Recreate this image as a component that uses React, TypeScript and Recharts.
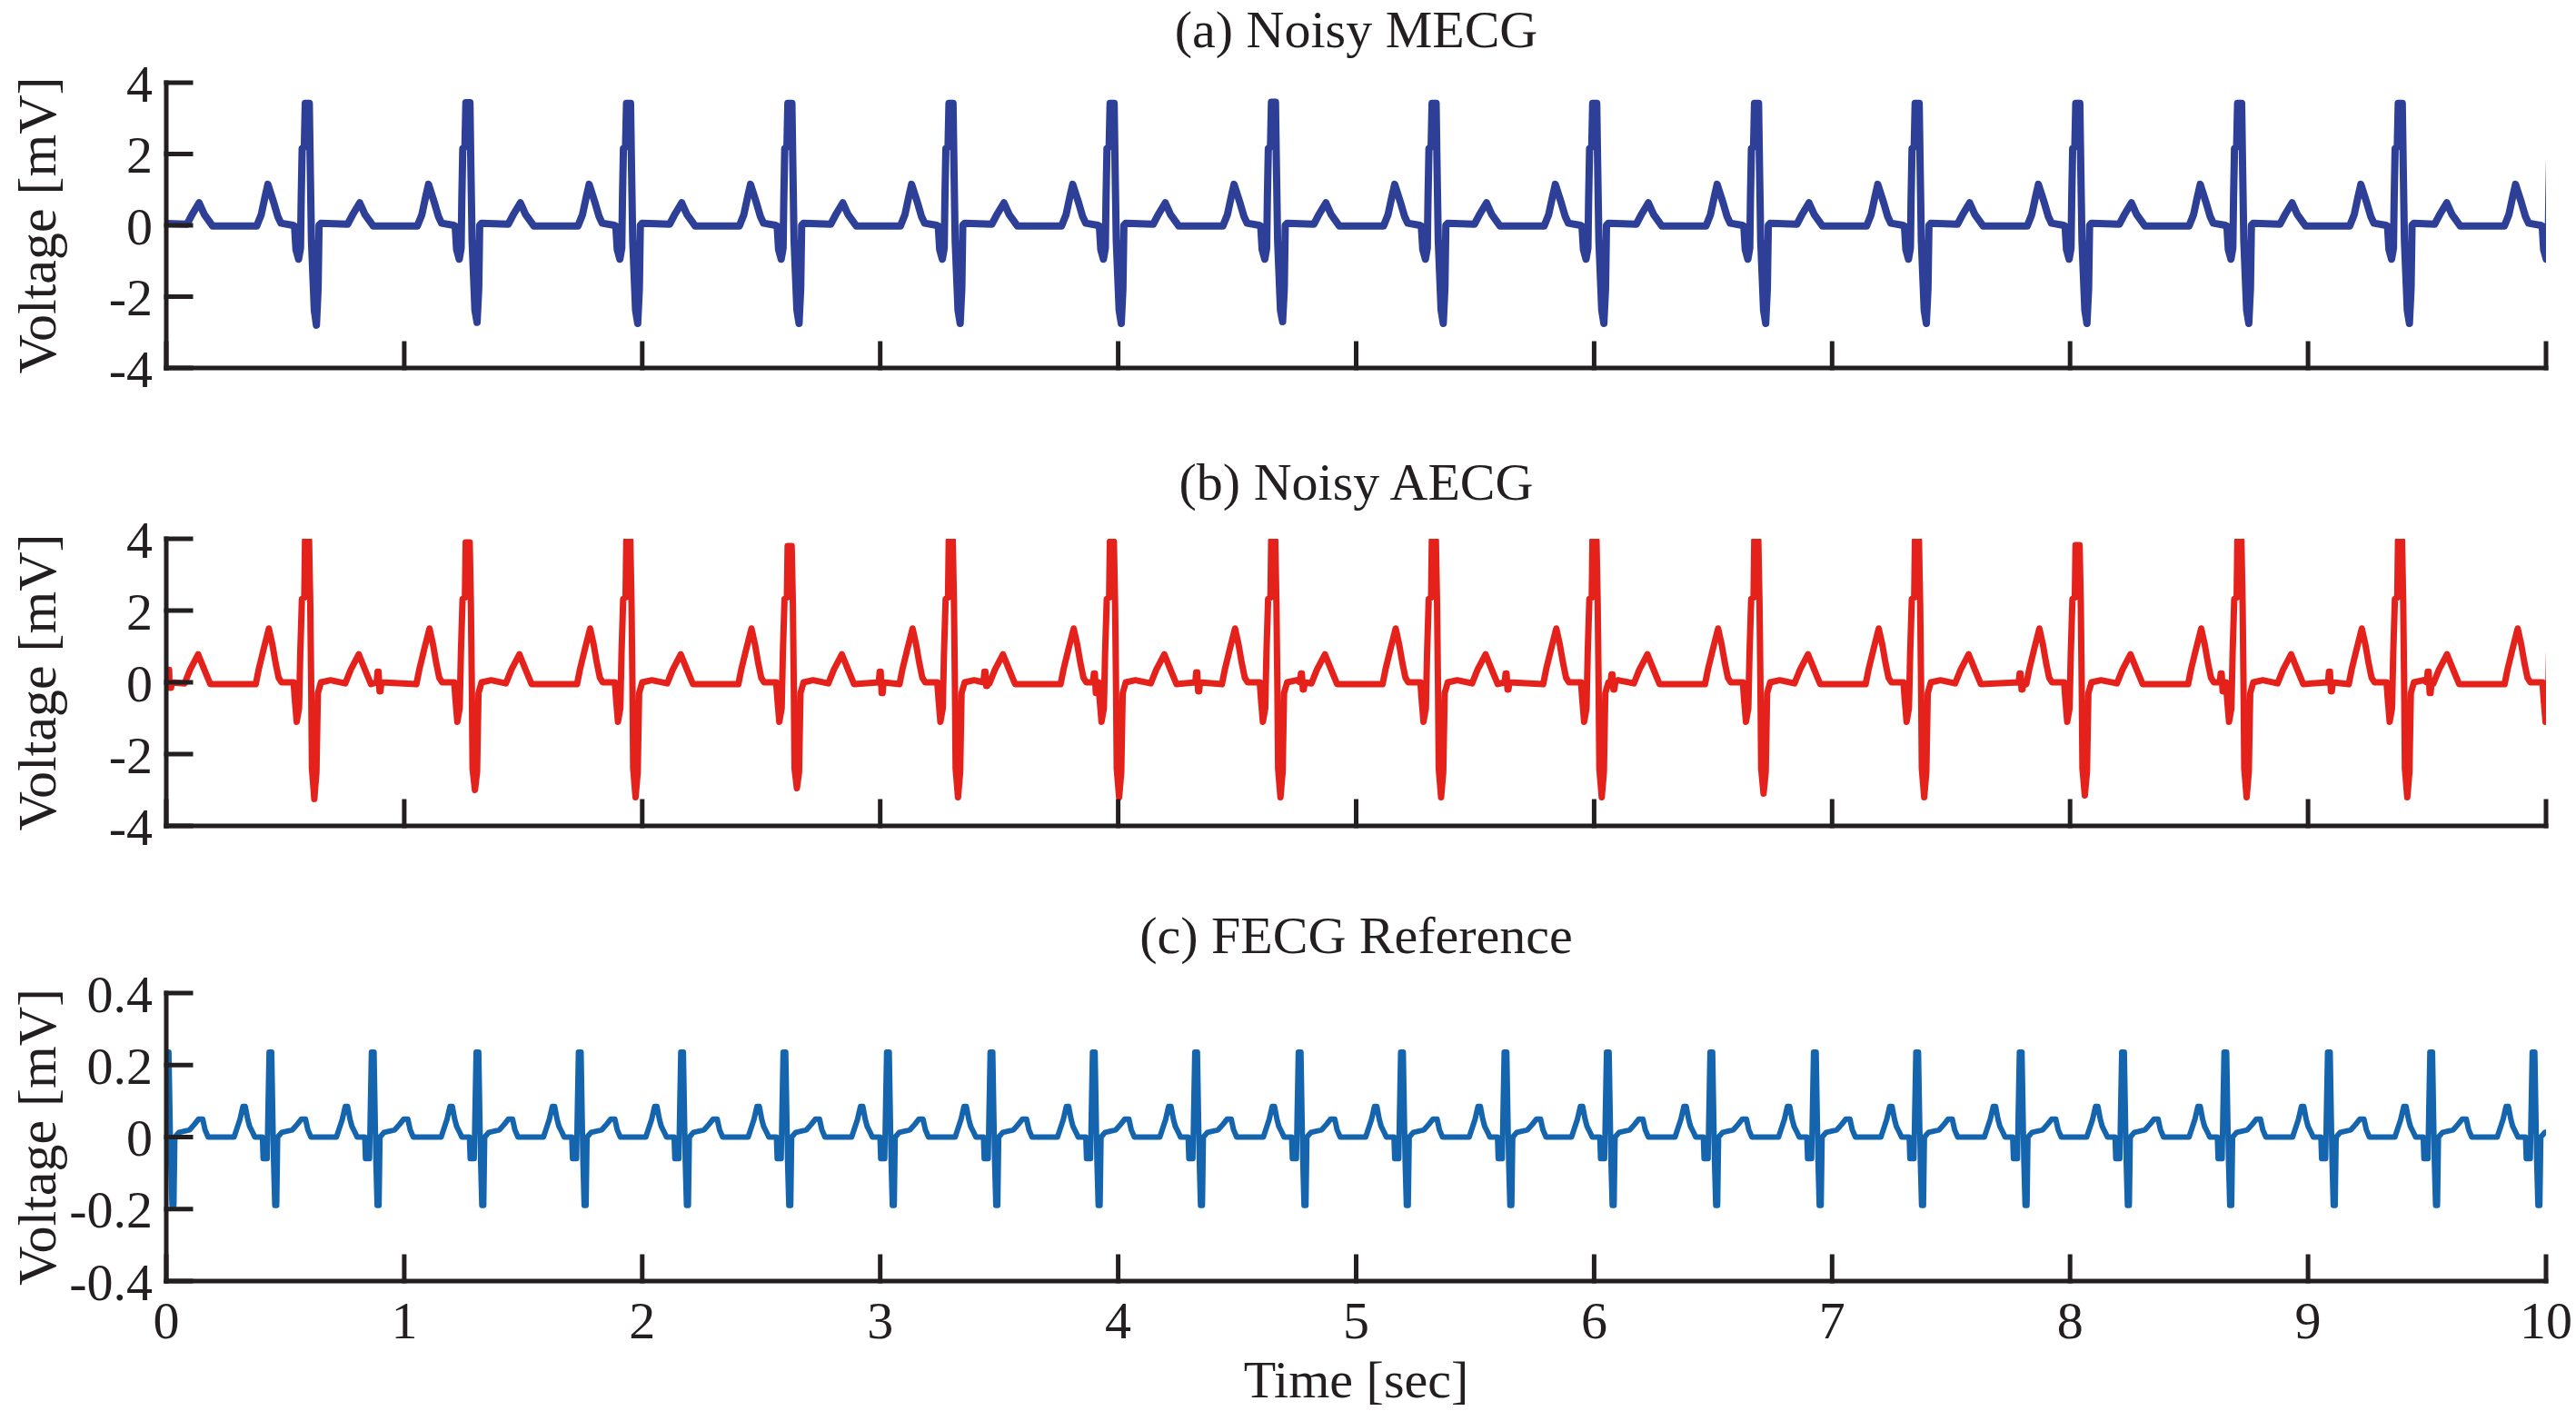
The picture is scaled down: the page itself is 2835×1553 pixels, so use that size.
import React from 'react';
import { LineChart, Line, XAxis, YAxis } from 'recharts';

const timeTicks = [0, 1, 2, 3, 4, 5, 6, 7, 8, 9, 10];
const mvTicks = [-4, -2, 0, 2, 4];
const fetalTicks = [-0.4, -0.2, 0, 0.2, 0.4];

// (a) noisy MECG: R-peak times [s] and per-beat R / S amplitudes [mV]
const mecgBeatTimes = [-0.087, 0.59, 1.265, 1.94, 2.618, 3.295, 3.972, 4.65, 5.325, 6.0, 6.68, 7.355, 8.03, 8.71, 9.385, 10.035];
const mecgRPeaks = [3.4, 3.42, 3.44, 3.42, 3.42, 3.42, 3.42, 3.45, 3.42, 3.42, 3.42, 3.42, 3.42, 3.42, 3.42, 3.4];
const mecgSTroughs = [-2.75, -2.8, -2.72, -2.75, -2.75, -2.75, -2.75, -2.7, -2.75, -2.75, -2.75, -2.75, -2.75, -2.75, -2.75, -2.75];
// one maternal beat around its R peak (offset s, mV)
const mecgShapeDt = [-0.503, -0.48, -0.452, -0.43, -0.395, -0.21, -0.191, -0.175, -0.163, -0.14, -0.121, -0.108, -0.057, -0.051, -0.045, -0.034, -0.026, -0.023, -0.019, -0.01, -0.006, 0.011, 0.015, 0.02, 0.032, 0.041, 0.048, 0.052, 0.06];
const mecgShapeMv: (number | 'R' | 'S')[] = [0.03, 0.32, 0.63, 0.3, -0.02, -0.02, 0.3, 0.8, 1.15, 0.67, 0.24, 0.06, 0.0, -0.02, -0.68, -0.95, -0.64, 0.76, 2.16, 2.2, 'R', 'R', 1.63, -0.42, -2.38, 'S', -1.77, 0.0, 0.06];

// (b) noisy AECG: maternal beats plus small fetal blips
const aecgBeatTimes = [-0.087, 0.59, 1.265, 1.94, 2.618, 3.295, 3.972, 4.65, 5.325, 6.0, 6.68, 7.355, 8.03, 8.71, 9.385, 10.04];
const aecgRPeaks = [3.95, 3.96, 3.9, 3.95, 3.8, 3.95, 3.92, 3.95, 3.95, 3.95, 3.95, 3.95, 3.82, 3.95, 3.95, 3.95];
const aecgSTroughs = [-3.2, -3.25, -3.0, -3.2, -2.95, -3.2, -3.2, -3.2, -3.2, -3.2, -3.1, -3.2, -3.15, -3.2, -3.2, -3.2];
const aecgShapeDt = [-0.513, -0.49, -0.456, -0.43, -0.405, -0.214, -0.201, -0.18, -0.159, -0.144, -0.131, -0.118, -0.106, -0.055, -0.05, -0.042, -0.032, -0.027, -0.02, -0.01, -0.007, 0.01, 0.015, 0.019, 0.022, 0.032, 0.041, 0.047, 0.06, 0.1];
const aecgShapeMv: (number | 'R' | 'S')[] = [-0.03, 0.35, 0.78, 0.35, -0.05, -0.05, 0.38, 0.95, 1.5, 1.05, 0.55, 0.13, 0.0, 0.0, -0.46, -1.1, -0.72, 0.8, 2.32, 2.36, 'R', 'R', 2.19, -0.13, -2.4, 'S', -2.5, -0.3, 0.0, 0.06];
const aecgBlipTimes = [0.01, 0.89, 3.0, 3.44, 3.9, 4.33, 4.77, 5.63, 6.075, 7.79, 8.635, 9.09, 9.505];
const aecgBlipUp = [0.35, 0.3, 0.3, 0.3, 0.25, 0.28, 0.25, 0.25, 0.22, 0.25, 0.25, 0.3, 0.3];
const aecgBlipDown = [-0.15, -0.25, -0.3, -0.1, -0.3, -0.25, -0.2, -0.2, -0.2, -0.2, -0.25, -0.25, -0.3];

// (c) FECG reference
const fecgBeatTimes = [0.008, 0.44, 0.87, 1.31, 1.74, 2.17, 2.6, 3.035, 3.47, 3.9, 4.33, 4.765, 5.195, 5.63, 6.06, 6.495, 6.93, 7.36, 7.795, 8.225, 8.655, 9.09, 9.52, 9.95];
const fecgRPeaks = [0.236, 0.236, 0.236, 0.236, 0.236, 0.236, 0.236, 0.236, 0.236, 0.236, 0.236, 0.236, 0.236, 0.236, 0.236, 0.236, 0.236, 0.236, 0.236, 0.236, 0.236, 0.236, 0.236, 0.236];
const fecgSTroughs = [-0.19, -0.19, -0.19, -0.19, -0.19, -0.19, -0.19, -0.19, -0.19, -0.19, -0.19, -0.19, -0.19, -0.19, -0.19, -0.19, -0.19, -0.19, -0.19, -0.19, -0.19, -0.19, -0.19, -0.19];
const fecgShapeDt = [-0.155, -0.145, -0.13, -0.118, -0.108, -0.098, -0.09, -0.075, -0.068, -0.036, -0.033, -0.016, -0.013, -0.008, 0.003, 0.007, 0.011, 0.016, 0.024, 0.028, 0.045, 0.09, 0.11, 0.128, 0.145, 0.155, 0.168];
const fecgShapeMv: (number | 'R' | 'S')[] = [0, 0.02, 0.05, 0.085, 0.085, 0.05, 0.03, 0.01, 0, 0, -0.06, -0.06, 0.06, 'R', 'R', 0.08, -0.07, 'S', 'S', 0, 0.013, 0.02, 0.035, 0.05, 0.05, 0.02, 0];

type Pt = { t: number; v: number };

const buildTrace = (
  beats: number[],
  rPeaks: number[],
  sTroughs: number[],
  dts: number[],
  mvs: (number | 'R' | 'S')[],
): Pt[] => {
  const pts: Pt[] = [];
  beats.forEach((tb, i) => {
    dts.forEach((dt, j) => {
      const raw = mvs[j];
      const v = raw === 'R' ? rPeaks[i] : raw === 'S' ? sTroughs[i] : raw;
      pts.push({ t: +(tb + dt).toFixed(4), v });
    });
  });
  return pts;
};

const mecgData = buildTrace(mecgBeatTimes, mecgRPeaks, mecgSTroughs, mecgShapeDt, mecgShapeMv);

const aecgData = (() => {
  const pts = buildTrace(aecgBeatTimes, aecgRPeaks, aecgSTroughs, aecgShapeDt, aecgShapeMv);
  aecgBlipTimes.forEach((tb, i) => {
    pts.push(
      { t: tb - 0.006, v: 0 },
      { t: tb - 0.002, v: aecgBlipUp[i] },
      { t: tb + 0.002, v: aecgBlipUp[i] },
      { t: tb + 0.006, v: aecgBlipDown[i] },
      { t: tb + 0.01, v: aecgBlipDown[i] },
      { t: tb + 0.014, v: 0 },
    );
  });
  return pts.sort((a, b) => a.t - b.t);
})();

const fecgData = buildTrace(fecgBeatTimes, fecgRPeaks, fecgSTroughs, fecgShapeDt, fecgShapeMv);

const INK = '#231f20';
const FONT = 'Liberation Serif, Times New Roman, serif';
const FS = 58;

// top panels keep their tick marks but show no numbers
const NoLabel = () => <g />;

interface PanelProps {
  top: number;
  height: number;
  marginTop: number;
  plotHeight: number;
  xAxisHeight: number;
  data: Pt[];
  color: string;
  lineWidth: number;
  domain: [number, number];
  yTicks: number[];
  showTimeLabels: boolean;
}

const Panel: React.FC<PanelProps> = ({
  top, height, marginTop, plotHeight, xAxisHeight, data, color, lineWidth, domain, yTicks, showTimeLabels,
}) => {
  const bottom = height - marginTop - plotHeight - xAxisHeight;
  const tickStyle = { fill: INK, fontSize: FS, fontFamily: FONT };
  const axisStyle = { stroke: INK, strokeWidth: 5, strokeLinecap: 'square' as const };
  return (
    <div style={{ position: 'absolute', left: 0, top, width: 2835, height }}>
      <LineChart width={2835} height={height} data={data} margin={{ top: marginTop, right: 33, bottom, left: 0 }}>
        <XAxis
          type="number"
          dataKey="t"
          domain={[0, 10]}
          ticks={timeTicks}
          interval={0}
          allowDataOverflow
          height={xAxisHeight}
          tickSize={-27}
          tickMargin={49}
          axisLine={axisStyle}
          tickLine={axisStyle}
          tick={showTimeLabels ? tickStyle : NoLabel}
        />
        <YAxis
          type="number"
          domain={domain}
          ticks={yTicks}
          interval={0}
          allowDataOverflow
          width={183}
          tickSize={-27}
          tickMargin={42}
          axisLine={axisStyle}
          tickLine={axisStyle}
          tick={tickStyle}
          label={{
            value: 'Voltage [mV]',
            angle: -90,
            position: 'insideLeft',
            offset: 40,
            fill: INK,
            fontSize: FS + 2,
            fontFamily: FONT,
            style: { textAnchor: 'middle' },
          }}
        />
        <Line
          type="linear"
          dataKey="v"
          stroke={color}
          strokeWidth={lineWidth}
          strokeLinejoin="round"
          dot={false}
          activeDot={false}
          isAnimationActive={false}
        />
      </LineChart>
    </div>
  );
};

const textStyle: React.CSSProperties = {
  position: 'absolute',
  left: 183,
  width: 2619,
  textAlign: 'center',
  fontFamily: FONT,
  fontSize: FS,
  lineHeight: '58px',
  color: INK,
  whiteSpace: 'nowrap',
};

const App: React.FC = () => (
  <div style={{ position: 'absolute', left: 0, top: 0, width: 2835, height: 1553, background: '#fff', overflow: 'hidden' }}>
    <div style={{ ...textStyle, top: 4 }}>(a) Noisy MECG</div>
    <div style={{ ...textStyle, top: 502 }}>(b) Noisy AECG</div>
    <div style={{ ...textStyle, top: 1001 }}>(c) FECG Reference</div>
    <Panel top={0} height={500} marginTop={91} plotHeight={314} xAxisHeight={20} data={mecgData} color="#2e3f97" lineWidth={8} domain={[-4, 4]} yTicks={mvTicks} showTimeLabels={false} />
    <Panel top={500} height={500} marginTop={93} plotHeight={316} xAxisHeight={20} data={aecgData} color="#e5211c" lineWidth={7} domain={[-4, 4]} yTicks={mvTicks} showTimeLabels={false} />
    <Panel top={1000} height={553} marginTop={93} plotHeight={317} xAxisHeight={100} data={fecgData} color="#1565ae" lineWidth={6} domain={[-0.4, 0.4]} yTicks={fetalTicks} showTimeLabels />
    <div style={{ ...textStyle, top: 1490 }}>Time [sec]</div>
  </div>
);

export default App;
